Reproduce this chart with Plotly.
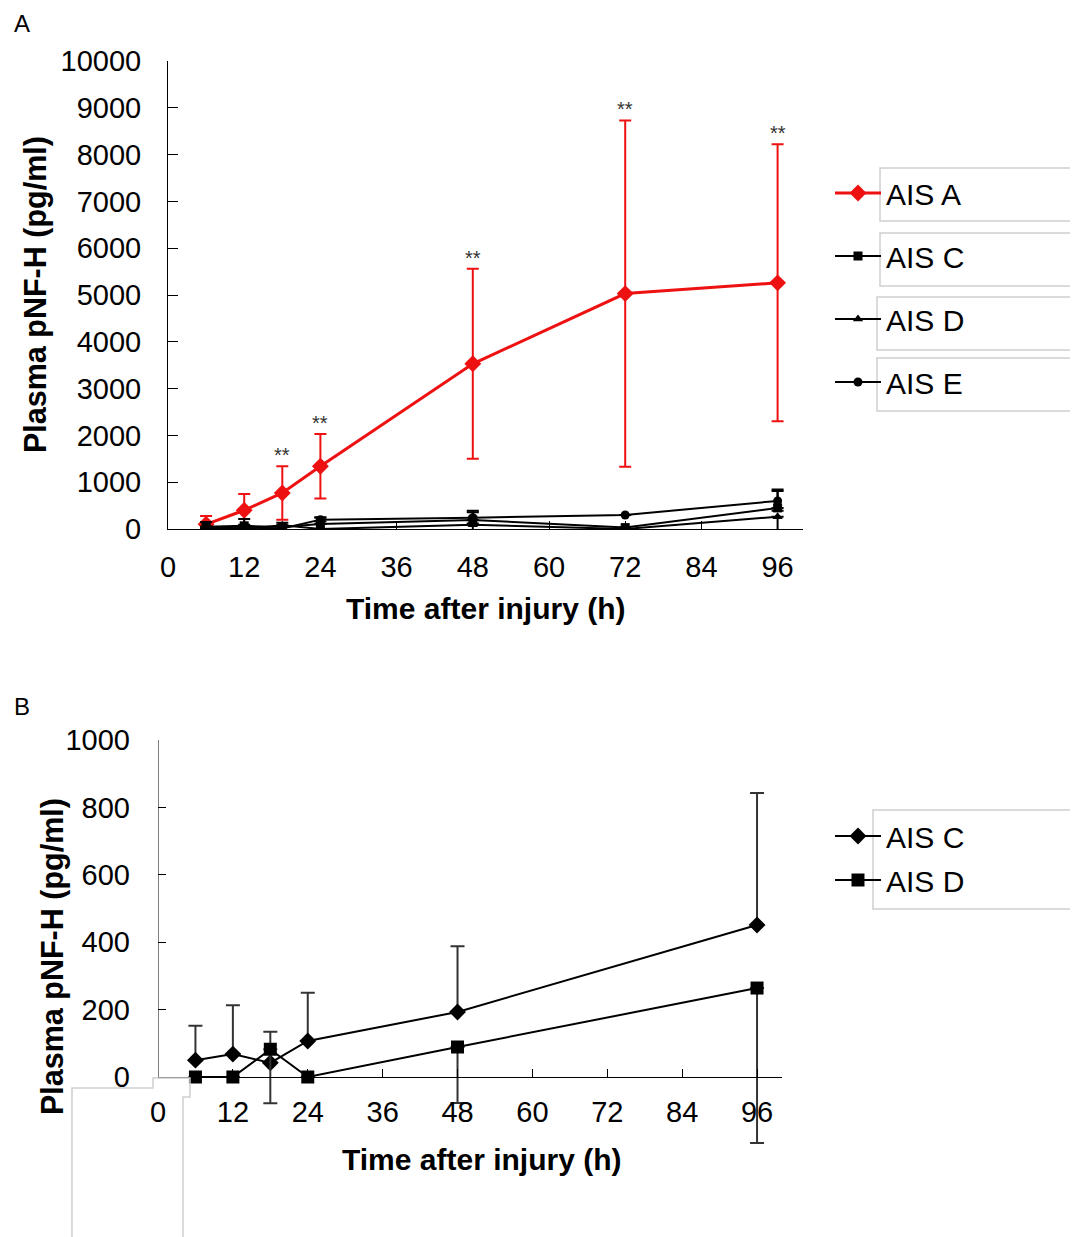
import plotly.graph_objects as go

# ---------------- data ----------------
# Panel A
hours_a = [6, 12, 18, 24, 48, 72, 96]
ais_a = [100, 400, 770, 1340, 3530, 5030, 5260]
ais_a_err = [180, 350, 570, 690, 2030, 3700, 2960]
ais_c_a = [50, 68, 42, 107, 193, 30, 451]
ais_c_a_err = [100, 145, 92, 143, 195, 0, 392]
ais_d_a = [0, 0, 82, 0, 89, 0, 264]
ais_d_a_err = [0, 0, 160, 0, 166, 0, 460]
ais_e_a = [20, 30, 10, 200, 240, 300, 600]
ais_e_a_err = [30, 60, 60, 40, 120, 0, 210]
star_hours = [18, 24, 48, 72, 96]
star_text = ["**", "**", "**", "**", "**"]

# Panel B
hours_b = [6, 12, 18, 24, 48, 96]
ais_c_b = [50, 68, 42, 107, 193, 451]
ais_c_b_err = [102, 145, 92, 143, 195, 392]
ais_d_b = [0, 0, 82, 0, 89, 264]
ais_d_b_err = [0, 0, 160, 0, 166, 460]

x_ticks = [0, 12, 24, 36, 48, 60, 72, 84, 96]
x_tick_labels = ["0", "12", "24", "36", "48", "60", "72", "84", "96"]
ya_ticks = [0, 1000, 2000, 3000, 4000, 5000, 6000, 7000, 8000, 9000, 10000]
ya_tick_labels = ["0", "1000", "2000", "3000", "4000", "5000", "6000", "7000",
                  "8000", "9000", "10000"]
yb_ticks = [0, 200, 400, 600, 800, 1000]
yb_tick_labels = ["0", "200", "400", "600", "800", "1000"]

# page has an 8px body margin: the figure is placed at (8, 8)
OFF = 8
W, H = 1078 - OFF, 1237 - OFF
FONT = "Liberation Sans, Arial, sans-serif"


def px(xp):
    return (xp - OFF) / W


def py(yp):
    return 1 - (yp - OFF) / H


fig = go.Figure()

# ---- Panel A traces ----
fig.add_trace(go.Scatter(
    x=hours_a, y=ais_a, name="AIS A", mode="lines+markers",
    line=dict(color="#ee1111", width=3),
    marker=dict(symbol="diamond", size=13, color="#ee1111"),
    error_y=dict(type="data", array=ais_a_err, color="#ee1111", thickness=2, width=6),
    xaxis="x", yaxis="y", legendgroup="a", legend="legend"))
fig.add_trace(go.Scatter(
    x=hours_a, y=ais_c_a, name="AIS C", mode="lines+markers",
    line=dict(color="black", width=2),
    marker=dict(symbol="square", size=9, color="black"),
    error_y=dict(type="data", array=ais_c_a_err, arrayminus=[0] * 7, symmetric=False,
                 color="black", thickness=2, width=6),
    xaxis="x", yaxis="y", legendgroup="c", legend="legend"))
fig.add_trace(go.Scatter(
    x=hours_a, y=ais_d_a, name="AIS D", mode="lines+markers",
    line=dict(color="black", width=2),
    marker=dict(symbol="triangle-up", size=9, color="black"),
    error_y=dict(type="data", array=[0] * 7, arrayminus=ais_d_a_err, symmetric=False,
                 color="black", thickness=2, width=6),
    xaxis="x", yaxis="y", legendgroup="d", legend="legend"))
fig.add_trace(go.Scatter(
    x=hours_a, y=ais_e_a, name="AIS E", mode="lines+markers",
    line=dict(color="black", width=2),
    marker=dict(symbol="circle", size=9, color="black"),
    error_y=dict(type="data", array=ais_e_a_err, color="black", thickness=2, width=6),
    xaxis="x", yaxis="y", legendgroup="e", legend="legend"))

# ---- Panel B traces ----
fig.add_trace(go.Scatter(
    x=hours_b, y=ais_c_b, name="AIS C", mode="lines+markers",
    line=dict(color="black", width=2),
    marker=dict(symbol="diamond", size=13, color="black"),
    error_y=dict(type="data", array=ais_c_b_err, arrayminus=[0] * 6, symmetric=False,
                 color="#333333", thickness=2, width=7),
    xaxis="x2", yaxis="y2", legendgroup="bc", legend="legend2"))
fig.add_trace(go.Scatter(
    x=hours_b, y=ais_d_b, name="AIS D", mode="lines+markers",
    line=dict(color="black", width=2),
    marker=dict(symbol="square", size=13, color="black"),
    error_y=dict(type="data", array=[0] * 6, arrayminus=ais_d_b_err, symmetric=False,
                 color="#333333", thickness=2, width=7),
    xaxis="x2", yaxis="y2", legendgroup="bd", legend="legend2"))

# ---- asterisks ----
annotations = []
for h, t in zip(star_hours, star_text):
    i = hours_a.index(h)
    annotations.append(dict(
        x=h, y=ais_a[i] + ais_a_err[i], xref="x", yref="y", text=t,
        showarrow=False, xanchor="center", yanchor="middle", yshift=11,
        font=dict(family=FONT, size=20, color="#333333")))


def note(x, y, text, size, angle=0):
    return dict(x=px(x), y=py(y), xref="paper", yref="paper", text=text,
                showarrow=False, xanchor="center", yanchor="middle", textangle=angle,
                font=dict(family=FONT, size=size, color="black"))


# ---- panel labels and axis titles ----
annotations += [
    note(22, 24, "A", 24),
    note(22, 706, "B", 24),
    note(35, 295, "<b>Plasma pNF-H (pg/ml)</b>", 30.5, -90),
    note(52, 957, "<b>Plasma pNF-H (pg/ml)</b>", 30.5, -90),
    note(486, 608, "<b>Time after injury (h)</b>", 30),
    note(482, 1159, "<b>Time after injury (h)</b>", 30),
]

# ---- shapes: legend boxes, panel B y-axis line, pasted box outline ----
box_col = "#cfcfcf"
shapes = []
for (x0, y0, x1, y1) in [(880, 168, 1077, 221), (880, 233, 1077, 286),
                         (877, 297, 1075, 350), (877, 358, 1075, 411),
                         (873, 810, 1073, 909)]:
    shapes.append(dict(type="rect", xref="paper", yref="paper",
                       x0=px(x0), x1=px(x1), y0=py(y0), y1=py(y1),
                       line=dict(color=box_col, width=1.5), layer="below"))
shapes.append(dict(type="line", xref="x2", yref="y2", x0=0, x1=0, y0=0, y1=1000,
                   line=dict(color="black", width=1)))
pts = [(72, 1240), (72, 1088), (153, 1088), (153, 1078), (190, 1078),
       (190, 1097), (183, 1097), (183, 1240)]
path = "M " + " L ".join(f"{px(a):.5f},{py(b):.5f}" for a, b in pts)
shapes.append(dict(type="path", xref="paper", yref="paper", path=path,
                   line=dict(color=box_col, width=1.5)))

tickfont = dict(family=FONT, size=29, color="black")
yb_min = -230
yb_bottom_px = 1077 + (0 - yb_min) * (1077 - 740) / 1000.0

common = dict(showgrid=False, zeroline=False, automargin=False, tickcolor="black",
              tickfont=tickfont, ticks="inside", tickwidth=1)

fig.update_layout(
    template="none",
    width=W, height=H,
    margin=dict(l=0, r=0, t=0, b=0, pad=0, autoexpand=False),
    paper_bgcolor="white", plot_bgcolor="white",
    showlegend=True,
    xaxis=dict(domain=[px(168), px(803)], range=[0, 100], tickvals=x_ticks,
               ticktext=x_tick_labels,
               showline=True, linecolor="black", linewidth=1,
               ticklen=8, ticklabelstandoff=12, anchor="y", **common),
    yaxis=dict(domain=[py(529), py(61)], range=[0, 10000], tickvals=ya_ticks,
               ticktext=ya_tick_labels,
               showline=True, linecolor="black", linewidth=1,
               ticklen=10, ticklabelstandoff=20, anchor="x", **common),
    xaxis2=dict(domain=[px(158), px(782)], range=[0, 100], tickvals=x_ticks,
                ticktext=x_tick_labels,
                showline=True, linecolor="black", linewidth=1,
                ticklen=8, ticklabelstandoff=9, anchor="free",
                position=py(1077), **common),
    yaxis2=dict(domain=[py(yb_bottom_px), py(740)], range=[yb_min, 1000], tickvals=yb_ticks,
                ticktext=yb_tick_labels,
                showline=False, ticklen=8, ticklabelstandoff=27, anchor="x2", **common),
    legend=dict(x=px(830), y=py(167), xanchor="left", yanchor="top",
                bgcolor="rgba(0,0,0,0)", borderwidth=0, tracegroupgap=21,
                itemwidth=46, font=dict(family=FONT, size=30, color="black")),
    legend2=dict(x=px(830), y=py(810), xanchor="left", yanchor="top",
                 bgcolor="rgba(0,0,0,0)", borderwidth=0, tracegroupgap=2,
                 itemwidth=46, font=dict(family=FONT, size=30, color="black")),
    annotations=annotations,
    shapes=shapes,
)

fig.write_html("out.html")
